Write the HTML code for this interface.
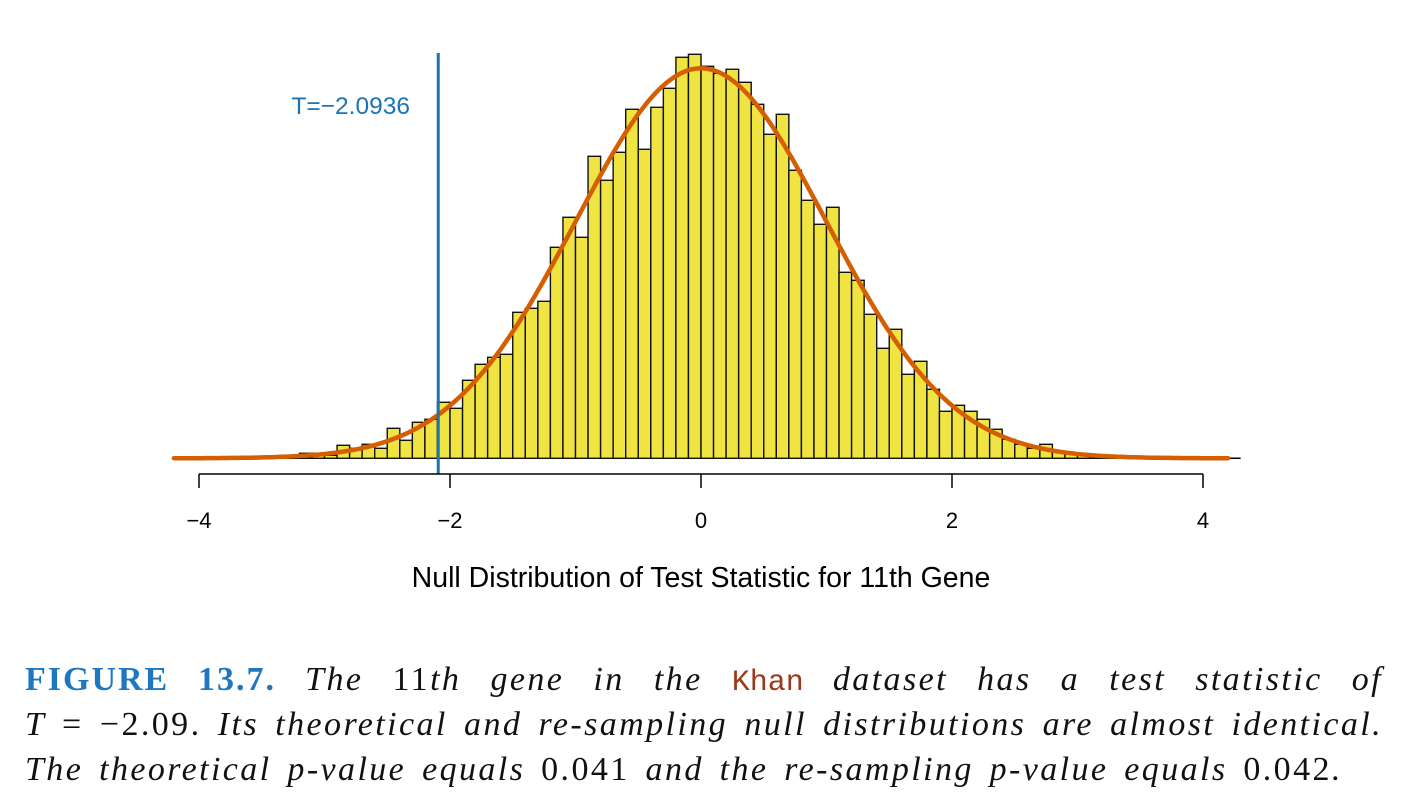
<!DOCTYPE html>
<html><head><meta charset="utf-8">
<style>
html,body{margin:0;padding:0;background:#fff;width:1409px;height:803px;overflow:hidden}
#chart{position:absolute;left:0;top:0}
.cap{position:absolute;left:25px;width:1358px;font-family:"Liberation Serif",serif;font-style:italic;font-size:34px;letter-spacing:2.4px;word-spacing:5px;color:#111;white-space:nowrap}
.just{text-align:justify;text-align-last:justify}
.fig{font-style:normal;font-weight:bold;color:#1f77c0;letter-spacing:2px}
.mono{font-family:"Liberation Mono",monospace;font-style:normal;color:#9c3a1a;font-size:30px;letter-spacing:0}
.up{font-style:normal}
</style></head><body>
<svg id="chart" width="1409" height="640" xmlns="http://www.w3.org/2000/svg"></svg>
<div class="cap just" style="top:661px"><span class="fig">FIGURE 13.7.</span> The <span class="up">11</span>th gene in the <span class="mono">Khan</span> dataset has a test statistic of</div>
<div class="cap just" style="top:706px">T <span class="up">= −2.09.</span> Its theoretical and re-sampling null distributions are almost identical.</div>
<div class="cap" style="top:751px">The theoretical p-value equals <span class="up">0.041</span> and the re-sampling p-value equals <span class="up">0.042</span>.</div>
<script>
const binStart = -3.2;
const binWidth = 0.1;
const counts = [5,5,3,13,10,14,10,30,18,36,39,56,50,78,94,101,104,146,150,157,211,241,221,302,278,306,349,309,351,370,401,404,392,385,389,376,354,324,344,288,258,234,251,186,178,144,110,129,84,97,69,47,53,47,39,29,19,14,10,14,6,5,3,2,1];
const xTicks = [-4,-2,0,2,4];
const xTickLabels = ["−4","−2","0","2","4"];
const curvePeak = 390;
const tStat = -2.0936;

const svg = document.getElementById('chart');
const NS = 'http://www.w3.org/2000/svg';
const X = v => 701 + v * 125.5;
const Y = c => 458.3 - c * 1.0;
function mk(tag, attrs){const e=document.createElementNS(NS,tag);for(const k in attrs)e.setAttribute(k,attrs[k]);svg.appendChild(e);return e;}

let bl = mk('line',{x1:X(-4.2),x2:X(4.3),y1:Y(0),y2:Y(0),stroke:'#000','stroke-width':1.5});


counts.forEach((c,i)=>{
  const x0 = X(binStart + i*binWidth), x1 = X(binStart + (i+1)*binWidth);
  const r = mk('rect',{x:x0,y:Y(c),width:x1-x0,height:Y(0)-Y(c),fill:'#f0e442',stroke:'#111','stroke-width':1.4});
  
  
});
let d='';
for(let v=-4.2; v<=4.2001; v+=0.02){ const h=curvePeak*Math.exp(-v*v/2); d+=(d?'L':'M')+X(v).toFixed(1)+','+Y(h).toFixed(1); }
const cv = mk('path',{d:d,fill:'none',stroke:'#d55e00','stroke-width':4.5,'stroke-linecap':'round'});


const tl = mk('line',{x1:X(tStat),x2:X(tStat),y1:53,y2:474,stroke:'#1a74b5','stroke-width':3});


const tt = mk('text',{x:410,y:114,'text-anchor':'end','font-family':'Liberation Sans, sans-serif','font-size':24.5,fill:'#1a74b5'});
tt.textContent='T=−2.0936';


const ax = mk('line',{x1:X(-4),x2:X(4),y1:474,y2:474,stroke:'#000','stroke-width':1.5});


xTicks.forEach((t,i)=>{
  const tk = mk('line',{x1:X(t),x2:X(t),y1:474,y2:488,stroke:'#000','stroke-width':1.5});
  
  
  const lb = mk('text',{x:X(t),y:528,'text-anchor':'middle','font-family':'Liberation Sans, sans-serif','font-size':22,fill:'#000'});
  lb.textContent=xTickLabels[i];
  
  
});
const xt = mk('text',{x:701,y:587,'text-anchor':'middle','font-family':'Liberation Sans, sans-serif','font-size':28.5,fill:'#000'});
xt.textContent='Null Distribution of Test Statistic for 11th Gene';


</script>
</body></html>
